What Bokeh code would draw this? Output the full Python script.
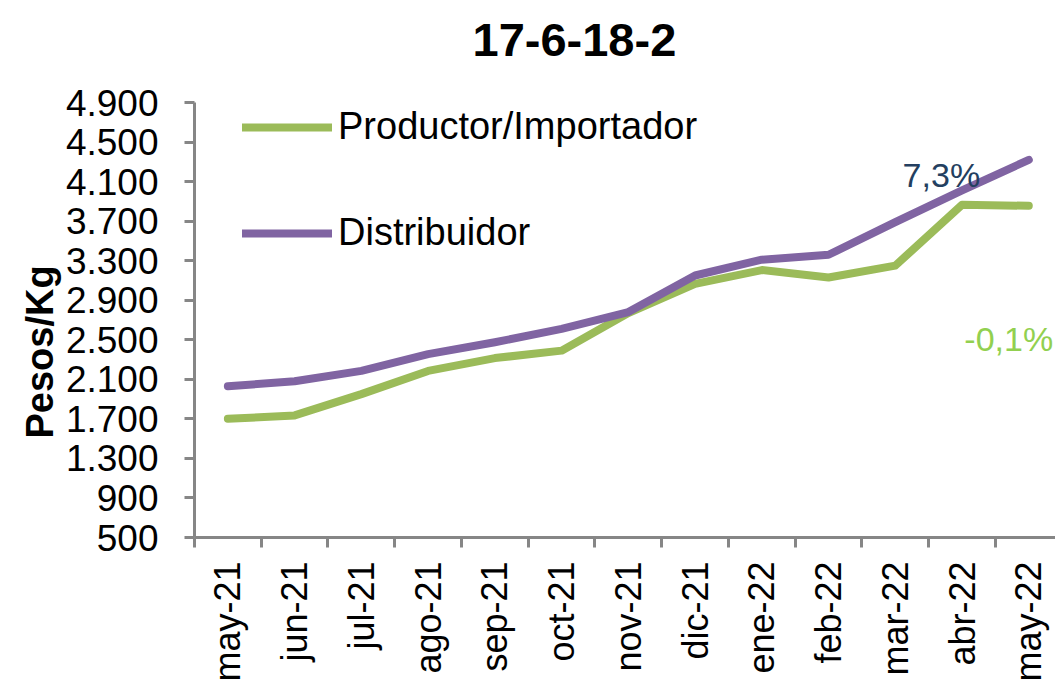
import math
from bokeh.plotting import figure
from bokeh.models import Range1d, FixedTicker, Label, Legend, LegendItem, Title
from bokeh.embed import file_html
from bokeh.resources import INLINE

months = ["may-21", "jun-21", "jul-21", "ago-21", "sep-21", "oct-21", "nov-21",
          "dic-21", "ene-22", "feb-22", "mar-22", "abr-22", "may-22"]
productor = [1700, 1735, 1950, 2185, 2315, 2390, 2770, 3065, 3205, 3130, 3250, 3865, 3855]
distribuidor = [2030, 2080, 2185, 2355, 2475, 2610, 2780, 3150, 3310, 3360, 3690, 4010, 4320]
y_ticks = [500, 900, 1300, 1700, 2100, 2500, 2900, 3300, 3700, 4100, 4500, 4900]
y_tick_labels = ["500", "900", "1.300", "1.700", "2.100", "2.500", "2.900", "3.300",
                 "3.700", "4.100", "4.500", "4.900"]
series_names = ["Productor/Importador", "Distribuidor"]
end_labels = ["-0,1%", "7,3%"]
title_text = "17-6-18-2"
y_title = "Pesos/Kg"

FONT = "Liberation Sans"
GREEN = "#9BBB59"
PURPLE = "#8064A2"
AXIS = "#868686"

xs = list(range(len(months)))

p = figure(width=1055, height=684, output_backend="svg", toolbar_location=None,
           x_range=Range1d(-0.5, 12.40), y_range=Range1d(500, 4900),
           min_border_left=194, min_border_right=0, min_border_top=102,
           min_border_bottom=147)
p.outline_line_color = None
p.xgrid.visible = False
p.ygrid.visible = False
p.background_fill_color = "white"
p.border_fill_color = "white"

g = p.line(xs, productor, line_color=GREEN, line_width=8, line_cap="round", line_join="round")
v = p.line(xs, distribuidor, line_color=PURPLE, line_width=8, line_cap="round", line_join="round")

# x axis
xa = p.xaxis[0]
xa.ticker = FixedTicker(ticks=xs, minor_ticks=[i - 0.5 for i in range(len(months) + 1)])
xa.major_label_overrides = {i: m for i, m in enumerate(months)}
xa.major_label_orientation = math.pi / 2
xa.major_tick_line_color = None
xa.major_tick_out = 0
xa.major_tick_in = 0
xa.minor_tick_line_color = AXIS
xa.minor_tick_line_width = 3
xa.minor_tick_out = 10
xa.minor_tick_in = 0
xa.axis_line_color = AXIS
xa.axis_line_width = 3
xa.major_label_text_font = FONT
xa.major_label_text_font_size = "36px"
xa.major_label_text_color = "black"
xa.major_label_standoff = 14

# y axis
ya = p.yaxis[0]
ya.ticker = FixedTicker(ticks=y_ticks, minor_ticks=[])
ya.major_label_overrides = {t: l for t, l in zip(y_ticks, y_tick_labels)}
ya.major_tick_line_color = AXIS
ya.major_tick_line_width = 3
ya.major_tick_out = 10
ya.major_tick_in = 0
ya.minor_tick_line_color = None
ya.axis_line_color = AXIS
ya.axis_line_width = 3
ya.major_label_text_font = FONT
ya.major_label_text_font_size = "37px"
ya.major_label_text_color = "black"
ya.major_label_standoff = 26

# titles: an empty spacer next to the frame, then the real title above it
p.add_layout(Title(text="\u00a0", text_font=FONT, text_font_size="10px",
                   standoff=34), "above")
p.add_layout(Title(text=title_text, text_font=FONT, text_font_size="47px",
                   text_font_style="bold", align="left", offset=278, standoff=0,
                   text_color="black"), "above")
p.add_layout(Title(text=y_title, text_font=FONT, text_font_size="38px",
                   text_font_style="bold", align="left", offset=99, standoff=4,
                   text_color="black"), "left")

# end labels
p.add_layout(Label(x=11.70, y=2511, text=end_labels[0], text_font=FONT, text_font_size="34px",
                   text_align="center", text_baseline="middle", text_color="#92D050"))
p.add_layout(Label(x=10.69, y=4169, text=end_labels[1], text_font=FONT, text_font_size="34px",
                   text_align="center", text_baseline="middle", text_color="#243F60"))

legend = Legend(items=[LegendItem(label=series_names[0], renderers=[g]),
                       LegendItem(label=series_names[1], renderers=[v])],
                location=(48, 283), orientation="vertical")
legend.glyph_width = 90
legend.glyph_height = 40
legend.label_height = 40
legend.spacing = 63
legend.padding = 0
legend.margin = 0
legend.label_standoff = 6
legend.border_line_color = None
legend.background_fill_alpha = 0
legend.label_text_font = FONT
legend.label_text_font_size = "38px"
legend.label_text_color = "black"
p.add_layout(legend)

open("out.html", "w").write(file_html(p, INLINE))
